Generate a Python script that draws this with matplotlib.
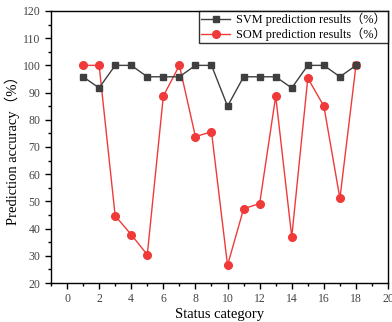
import numpy as np
import matplotlib.pyplot as plt
from matplotlib.ticker import MultipleLocator

plt.rcParams['font.family'] = ['Liberation Serif', 'Noto Sans CJK SC']

categories = list(range(1, 19))
svm_acc = [95.8, 91.7, 100, 100, 95.8, 95.8, 95.8, 100, 100, 85.0,
           95.8, 95.8, 95.8, 91.7, 100, 100, 95.8, 100]
som_acc = [100, 100, 44.7, 37.8, 30.4, 88.7, 100, 73.8, 75.6, 26.5,
           47.3, 49.2, 88.7, 36.9, 95.3, 85.0, 51.1, 100]

fig = plt.figure(figsize=(3.92, 3.22), dpi=100)
ax = fig.add_axes([0.130, 0.121, 0.860, 0.845])

ax.plot(categories, svm_acc, color='#3f3f3f', marker='s', markersize=4.5,
        linewidth=1.0, label='SVM prediction results（%）', zorder=3)
ax.plot(categories, som_acc, color='#f03a3a', marker='o', markersize=5.5,
        linewidth=1.0, label='SOM prediction results（%）', zorder=2)

ax.set_xlim(-1, 20)
ax.set_ylim(20, 120)
ax.xaxis.set_major_locator(MultipleLocator(2))
ax.xaxis.set_minor_locator(MultipleLocator(1))
ax.yaxis.set_major_locator(MultipleLocator(10))
ax.yaxis.set_minor_locator(MultipleLocator(5))
ax.tick_params(which='major', direction='out', length=4, width=1,
               labelsize=8.5, labelcolor='#444444')
ax.tick_params(which='minor', direction='out', length=2, width=1)
for s in ax.spines.values():
    s.set_linewidth(1.0)

ax.set_xlabel('Status category', fontsize=10.5, labelpad=2)
ax.set_ylabel('Prediction accuracy（%）', fontsize=10.5, labelpad=2)

leg = ax.legend(loc='upper right', fontsize=8.8, frameon=True, fancybox=False,
                edgecolor='black', borderpad=0.15, handlelength=2.4,
                handletextpad=0.5, labelspacing=0.1, borderaxespad=0.0)
leg.get_frame().set_linewidth(1.0)

fig.savefig('out.png', dpi=100)
